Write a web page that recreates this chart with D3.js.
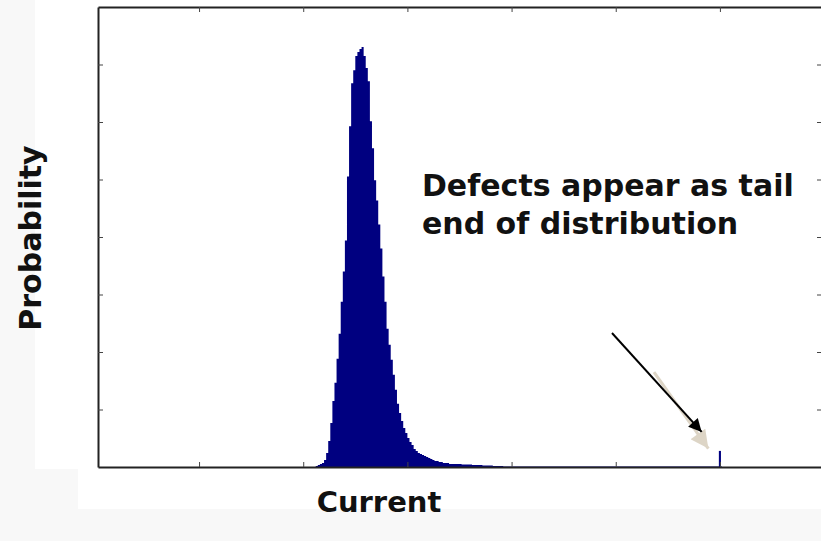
<!DOCTYPE html>
<html>
<head>
<meta charset="utf-8">
<script src="https://cdn.jsdelivr.net/npm/d3@7"></script>
<style>
  html, body { margin: 0; padding: 0; background: #f8f8f8; }
  svg { display: block; }
</style>
</head>
<body>
<div id="chart-container"></div>
<script>
// histogram of measured current, main peak in fine bins
const peakStart = 2.12, peakWidth = 0.02;
const peakCounts = [
  0.017, 0.035, 0.052, 0.070, 0.122, 0.244, 0.453, 0.767, 1.150, 1.464,
  1.882, 2.318, 2.876, 3.399, 3.939, 5.054, 5.926, 6.675, 6.902, 7.146,
  7.216, 7.268, 7.303, 7.146, 6.937, 6.710, 6.013, 5.543, 4.985, 4.636,
  4.218, 3.800, 3.312, 2.876, 2.405, 2.126, 1.865, 1.603, 1.342, 1.098,
  0.941, 0.802, 0.680, 0.593, 0.505, 0.436, 0.383, 0.314, 0.279, 0.244,
  0.227, 0.209, 0.192, 0.174, 0.157, 0.139, 0.122, 0.105, 0.105, 0.087,
  0.087, 0.070, 0.070, 0.070, 0.052
];

// long thin tail, coarser bins
const tailStart = 3.42, tailWidth = 0.1;
const tailCounts = [
  0.052, 0.044, 0.035, 0.026, 0.017, 0.010, 0.010, 0.010, 0.010, 0.010,
  0.010, 0.010, 0.010, 0.010, 0.010, 0.010, 0.010, 0.010, 0.010, 0.010,
  0.010, 0.010, 0.010, 0.010, 0.010, 0.010
];

// the defect spike at the far end
const defectStarts = [5.99], defectWidth = 0.02;
const defectCounts = [0.28];

const xTicks = [1, 2, 3, 4, 5, 6];
const yTicks = [1, 2, 3, 4, 5, 6, 7];

const xLabel = "Current", yLabel = "Probability";
const noteLines = ["Defects appear as tail", "end of distribution"];
const notePos = {x: 3.14, y: 4.72};
const blackArrow = [[4.964, 2.33], [5.825, 0.61]];
const beigeArrow = [[5.367, 1.65], [5.889, 0.32]];

const width = 821, height = 541;
const margin = {top: 7, left: 98, right: 822, bottom: 467};

const svg = d3.select("#chart-container")
  .append("svg")
  .attr("width", width)
  .attr("height", height)
  .style("font-family", "'DejaVu Sans', Verdana, sans-serif");

// white panels behind the figure (slide cut-out look)
svg.append("rect").attr("x", 35).attr("y", 0).attr("width", width - 35).attr("height", 469).attr("fill", "#fff");
svg.append("rect").attr("x", 78).attr("y", 469).attr("width", width - 78).attr("height", 40).attr("fill", "#fff");

const x = d3.scaleLinear().domain([0.03, 6.98]).range([margin.left, margin.right]);
const y = d3.scaleLinear().domain([0, 8]).range([margin.bottom, margin.top]);

const bins = [
  ...peakCounts.map((v, i) => ({x0: peakStart + i * peakWidth, x1: peakStart + (i + 1) * peakWidth, v})),
  ...tailCounts.map((v, i) => ({x0: tailStart + i * tailWidth, x1: tailStart + (i + 1) * tailWidth, v}))
];
const spikes = defectCounts.map((v, i) => ({x0: defectStarts[i], x1: defectStarts[i] + defectWidth, v}));

// contiguous bins as one stepped shape (no seams between bars)
const stepPts = bins.map(d => [d.x0, d.v]);
stepPts.push([bins[bins.length - 1].x1, 0]);

const area = d3.area()
  .curve(d3.curveStepAfter)
  .x(d => x(d[0]))
  .y0(y(0))
  .y1(d => y(d[1]));

svg.append("path")
  .datum(stepPts)
  .attr("d", area)
  .attr("fill", "#000080");

svg.append("g")
  .selectAll("rect")
  .data(spikes)
  .join("rect")
    .attr("x", d => x(d.x0))
    .attr("width", d => x(d.x1) - x(d.x0))
    .attr("y", d => y(d.v))
    .attr("height", d => y(0) - y(d.v))
    .attr("fill", "#000080");

// axes: MATLAB style box with inward ticks, no labels
const axes = [
  {ax: d3.axisBottom(x).tickValues(xTicks), t: `translate(0,${margin.bottom})`},
  {ax: d3.axisTop(x).tickValues(xTicks), t: `translate(0,${margin.top})`},
  {ax: d3.axisLeft(y).tickValues(yTicks), t: `translate(${margin.left},0)`},
  {ax: d3.axisRight(y).tickValues(yTicks), t: `translate(${margin.right},0)`}
];
axes.forEach(a => {
  const g = svg.append("g")
    .attr("transform", a.t)
    .call(a.ax.tickSize(-5).tickSizeOuter(0).tickFormat(""));
  g.select(".domain").attr("stroke", "#222").attr("stroke-width", 2);
  g.selectAll(".tick line").attr("stroke", "#444");
});

// arrows
const defs = svg.append("defs");
function marker(id, color, w, h) {
  defs.append("marker")
    .attr("id", id)
    .attr("viewBox", "0 0 10 10")
    .attr("refX", 10).attr("refY", 5)
    .attr("markerUnits", "userSpaceOnUse")
    .attr("markerWidth", w).attr("markerHeight", h)
    .attr("orient", "auto")
    .append("path")
      .attr("d", "M0,0 L10,5 L0,10 Z")
      .attr("fill", color);
}
marker("head-beige", "#ddd5c6", 22, 18);
marker("head-black", "#000", 17, 13);

svg.append("line")
  .attr("x1", x(beigeArrow[0][0])).attr("y1", y(beigeArrow[0][1]))
  .attr("x2", x(beigeArrow[1][0])).attr("y2", y(beigeArrow[1][1]))
  .attr("stroke", "#ddd5c6").attr("stroke-width", 3)
  .attr("marker-end", "url(#head-beige)");

svg.append("line")
  .attr("x1", x(blackArrow[0][0])).attr("y1", y(blackArrow[0][1]))
  .attr("x2", x(blackArrow[1][0])).attr("y2", y(blackArrow[1][1]))
  .attr("stroke", "#000").attr("stroke-width", 2)
  .attr("marker-end", "url(#head-black)");

// annotation text
const note = svg.append("text")
  .attr("x", x(notePos.x))
  .attr("y", y(notePos.y))
  .style("font-size", "30px")
  .style("font-weight", "bold")
  .style("fill", "#111");
noteLines.forEach((line, i) => {
  note.append("tspan")
    .attr("x", x(notePos.x))
    .attr("dy", i === 0 ? 0 : 38)
    .text(line);
});

// axis titles
svg.append("text")
  .attr("x", 379)
  .attr("y", 512)
  .attr("text-anchor", "middle")
  .style("font-size", "29px")
  .style("font-weight", "bold")
  .style("fill", "#111")
  .text(xLabel);

svg.append("text")
  .attr("transform", "translate(41,238) rotate(-90)")
  .attr("text-anchor", "middle")
  .style("font-size", "30px")
  .style("font-weight", "bold")
  .style("fill", "#111")
  .text(yLabel);
</script>
</body>
</html>
